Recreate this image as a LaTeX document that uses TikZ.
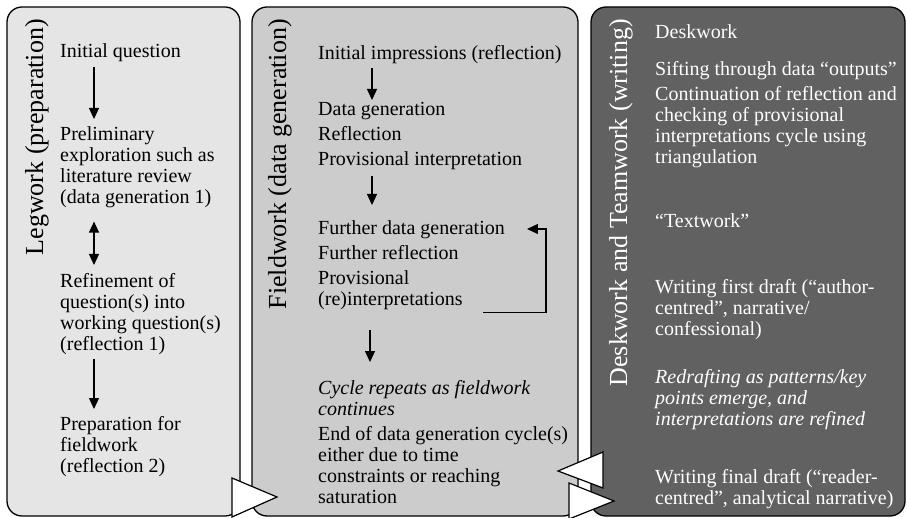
\documentclass[tikz,border=0pt]{standalone}
\usepackage{fontspec}
\setmainfont{Liberation Serif}
\usetikzlibrary{arrows.meta}

\begin{document}
\begin{tikzpicture}[x=1pt,y=-1pt,
	stage/.style={draw=black, line width=1.3pt, rounded corners=15pt},
	phase/.style={rotate=90, anchor=base east, inner sep=0pt, font=\fontsize{26}{28}\selectfont},
	item/.style={anchor=north west, inner sep=0pt, yshift=-2pt, align=left, font=\fontsize{20}{21}\selectfont, execute at begin node=\strut},
	note/.style={item, font=\fontsize{20}{21}\selectfont\itshape},
	flow/.style={-{Triangle[width=10pt,length=11pt]}, line width=1.2pt},
	hand/.style={fill=white, draw=black, line width=1.2pt, line join=miter}]
	\useasboundingbox (0,0) rectangle (907,518);
	
	% the three stages
	\draw[stage, fill=black!10] (7,7) rectangle (240,516);
	\draw[stage, fill=black!20] (252,7) rectangle (578,516);
	\draw[stage, fill=black!62] (591,7) rectangle (905,516);
	
	\node[phase] (legwork) at (43,19) {Legwork (preparation)};
	\node[phase] (fieldwork) at (286,19) {Fieldwork (data generation)};
	\node[phase, text=white] (deskwork) at (627,19) {Deskwork and Teamwork (writing)};
	
	% legwork
	\node[item] (q0) at (60,41) {Initial question};
	\node[item] (q1) at (60,124) {Preliminary\\exploration such as\\literature review\\(data generation 1)};
	\node[item] (q2) at (60,271) {Refinement of\\question(s) into\\working question(s)\\(reflection 1)};
	\node[item] (q3) at (60,414) {Preparation for\\fieldwork\\(reflection 2)};
	\draw[flow, shorten <=3pt, shorten >=7pt] ([xshift=34pt]q0.south west) -- ([xshift=34pt]q1.north west);
	\draw[flow, {Triangle[width=10pt,length=11pt]}-{Triangle[width=10pt,length=11pt]}, shorten <=12pt, shorten >=8pt] ([xshift=34pt]q1.south west) -- ([xshift=34pt]q2.north west);
	\draw[flow, shorten <=2pt, shorten >=7pt] ([xshift=34pt]q2.south west) -- ([xshift=34pt]q3.north west);
	
	% fieldwork
	\node[item] (f0) at (318,43) {Initial impressions (reflection)};
	\node[item] (f1) at (318,100) {Data generation\\[4pt]Reflection\\[4pt]Provisional interpretation};
	\node[item] (f2) at (318,218) {Further data generation\\[4pt]Further reflection\\[4pt]Provisional\\(re)interpretations};
	\node[note] (f3) at (318,378) {Cycle repeats as fieldwork\\continues};
	\node[item] (f4) at (318,424) {End of data generation cycle(s)\\either due to time\\constraints or reaching\\saturation};
	\draw[flow, shorten <=2pt, shorten >=2pt] ([xshift=54pt]f0.south west) -- ([xshift=54pt]f1.north west);
	\draw[flow, shorten <=4pt, shorten >=15pt] ([xshift=54pt]f1.south west) -- ([xshift=54pt]f2.north west);
	\draw[flow] ([xshift=165pt,yshift=-1pt]f2.south west) -| ([xshift=41pt,yshift=-9pt]f2.north east) -- ([xshift=22pt,yshift=-9pt]f2.north east);
	\draw[flow, shorten <=18pt, shorten >=18pt] ([xshift=52pt]f2.south west) -- ([xshift=52pt]f3.north west);
	
	% deskwork
	\node[item, text=white] (d0) at (655,22) {Deskwork};
	\node[item, text=white] (d1) at (655,59) {Sifting through data ``outputs''\\[4pt]Continuation of reflection and\\checking of provisional\\interpretations cycle using\\triangulation};
	\node[item, text=white] (d2) at (655,211) {``Textwork''};
	\node[item, text=white] (d3) at (655,277) {Writing first draft (``author-\\centred'', narrative/\\confessional)};
	\node[note, text=white] (d4) at (655,367) {Redrafting as patterns/key\\points emerge, and\\interpretations are refined};
	\node[item, text=white] (d5) at (655,467) {Writing final draft (``reader-\\centred'', analytical narrative)};
	
	% hand-over arrows
	\draw[hand] (232,478) -- (277,497) -- (232,517) -- cycle;
	\draw[hand] (603,452) -- (558,471) -- (603,488) -- cycle;
	\draw[hand] (569,483) -- (614,501) -- (569,519) -- cycle;
\end{tikzpicture}
\end{document}
